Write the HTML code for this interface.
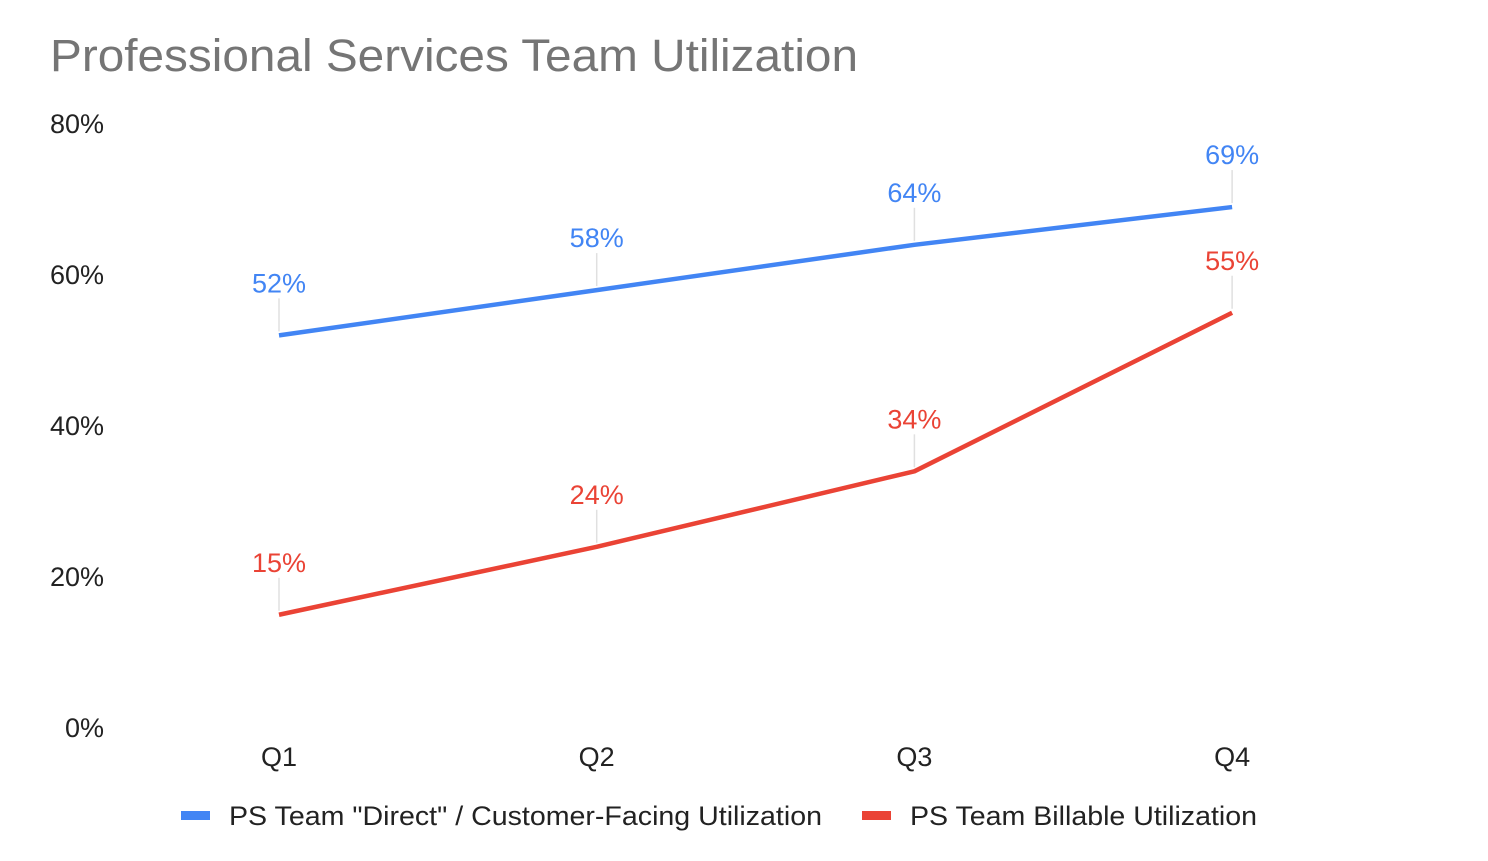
<!DOCTYPE html>
<html><head><meta charset="utf-8"><style>
html,body{margin:0;padding:0;background:#fff;width:1488px;height:861px;overflow:hidden}
svg text{font-family:"Liberation Sans",Arial,sans-serif}
</style></head><body>
<svg id="chart" width="1488" height="861" xmlns="http://www.w3.org/2000/svg">
<text x="50" y="71" font-size="45" fill="#757575" textLength="808" lengthAdjust="spacingAndGlyphs">Professional Services Team Utilization</text>
<g id="yaxis"></g>
<g id="xaxis"></g>
<g id="series"></g>
<g>
<g><rect x="181" y="811" width="29" height="9" fill="#4285f4"/><text x="229" y="825" font-size="27" fill="#222" textLength="593" lengthAdjust="spacingAndGlyphs">PS Team "Direct" / Customer-Facing Utilization</text></g>
<g><rect x="862" y="811" width="29" height="9" fill="#ea4335"/><text x="910" y="825" font-size="27" fill="#222" textLength="347" lengthAdjust="spacingAndGlyphs">PS Team Billable Utilization</text></g>
</g>
</svg>
<script>
const categories=["Q1","Q2","Q3","Q4"];
const directValues=[52,58,64,69];
const billableValues=[15,24,34,55];
const yTicks=[0,20,40,60,80];
const NS="http://www.w3.org/2000/svg";
function x(i){return 279+i*317.7;}
function y(v){return 728-v*7.55;}
function mk(tag,attrs,parent,txt){const e=document.createElementNS(NS,tag);for(const k in attrs)e.setAttribute(k,attrs[k]);if(txt!==undefined)e.textContent=txt;parent.appendChild(e);return e;}
const ya=document.getElementById('yaxis'),xa=document.getElementById('xaxis'),sg=document.getElementById('series');
yTicks.forEach(t=>{const e=mk('text',{x:104,y:y(t)+9,'font-size':27,fill:'#222','text-anchor':'end'},ya,t+'%');

});
categories.forEach((c,i)=>{const e=mk('text',{x:x(i),y:766,'font-size':27,fill:'#222','text-anchor':'middle'},xa,c);

});
function drawSeries(vals,color,name){
const g=mk('g',{},sg);


vals.forEach((v,i)=>{const l=mk('line',{x1:x(i),x2:x(i),y1:y(v)-4,y2:y(v)-37,stroke:'#e0e0e0','stroke-width':1.5},g);

});
const p=mk('polyline',{points:vals.map((v,i)=>x(i)+','+y(v)).join(' '),fill:'none',stroke:color,'stroke-width':4.5,'stroke-linejoin':'round'},g);


vals.forEach((v,i)=>{const t=mk('text',{x:x(i),y:y(v)-43,'font-size':27,fill:color,'text-anchor':'middle'},g,v+'%');

});
}
drawSeries(directValues,'#4285f4','direct-series');
drawSeries(billableValues,'#ea4335','billable-series');
</script>
</body></html>
